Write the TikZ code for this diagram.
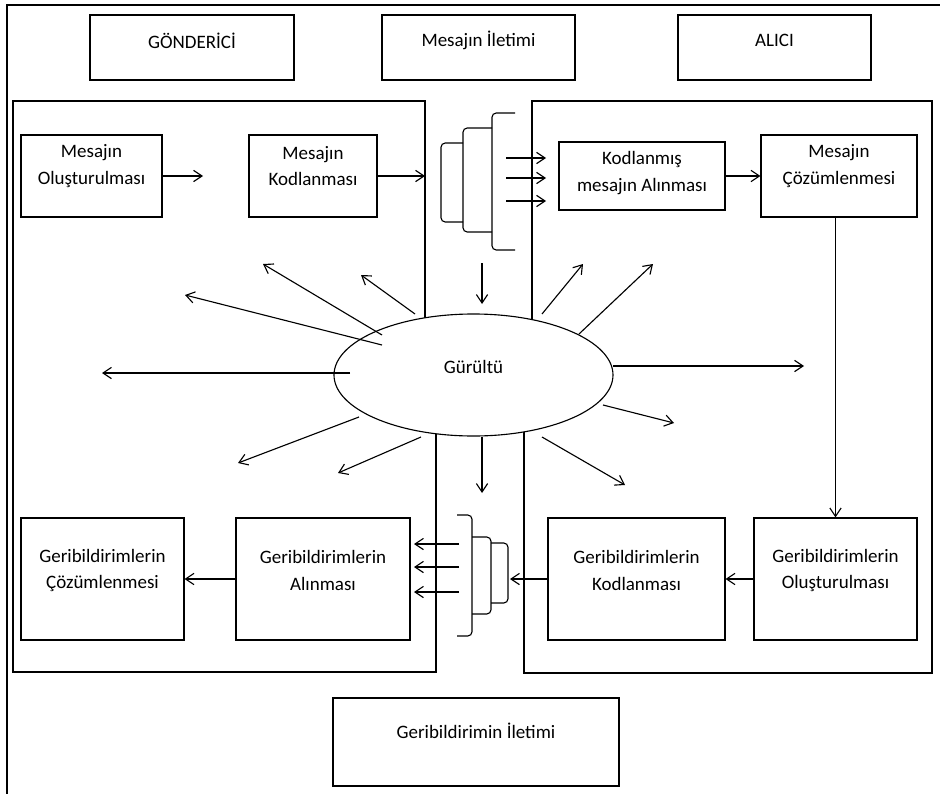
\documentclass[tikz,border=0pt]{standalone}
\usepackage{fontspec}
\setmainfont{Carlito}
\usetikzlibrary{arrows.meta,shapes.geometric}

\begin{document}
\begin{tikzpicture}[x=0.025cm,y=-0.025cm,>={Straight Barb[length=6pt,width=8pt]},
      line width=0.8pt,font=\fontsize{13.5}{19}\selectfont,
      box/.style 2 args={draw,minimum width=#1*0.025cm,minimum height=#2*0.025cm},
      txt/.style={align=center,inner sep=0pt},
      flow/.style={->}]

      \useasboundingbox (0,0) rectangle (940,794);

      % frame and the two sides
      \draw (7,794) -- (7,5) -- (940,5);
      \draw (425,360) -- (425,101) -- (13,101) -- (13,672) -- (436,672) -- (436,390);
      \draw (532,360) -- (532,101) -- (932,101) -- (932,673) -- (524,673) -- (524,390);

      % titles
      \node[box={204}{65},label={[txt,yshift=5pt]center:GÖNDERİCİ}] (gonderici) at (192,47.5) {};
      \node[box={193}{65},label={[txt,yshift=5pt]center:Mesajın İletimi}] (iletim) at (478.5,47.5) {};
      \node[box={193}{65},label={[txt,yshift=5pt]center:ALICI}] (alici) at (774.5,47.5) {};
      \node[box={286}{88},label={[txt,yshift=8pt]center:Geribildirimin İletimi}] (geriilet) at (476,742) {};

      % message steps
      \node[box={141}{82},label={[txt,yshift=7pt]center:{Mesajın\\Oluşturulması}}] (olus) at (91.5,176) {};
      \node[box={128}{82},label={[txt,yshift=7pt]center:{Mesajın\\Kodlanması}}] (kod) at (313,176) {};
      \node[box={166}{68},label={[txt,yshift=2pt]center:{Kodlanmış\\mesajın Alınması}}] (alin) at (642,176) {};
      \node[box={156}{82},label={[txt,yshift=7pt]center:{Mesajın\\Çözümlenmesi}}] (coz) at (839,176) {};

      % feedback steps
      \node[box={163}{122},label={[txt,yshift=6pt]center:{Geribildirimlerin\\Çözümlenmesi}}] (gcoz) at (102.5,579) {};
      \node[box={174}{122},label={[txt,yshift=6pt]center:{Geribildirimlerin\\Alınması}}] (galin) at (323,579) {};
      \node[box={177}{122},label={[txt,yshift=6pt]center:{Geribildirimlerin\\Kodlanması}}] (gkod) at (636.5,579) {};
      \node[box={163}{122},label={[txt,yshift=6pt]center:{Geribildirimlerin\\Oluşturulması}}] (golus) at (835.5,579) {};

      % channels
      \foreach \xl/\xr/\yt/\yb in {441/463/143/222, 463/492/128/232, 492/515/113/250}
        \draw[rounded corners=3pt] (\xr,\yt) -- (\xl,\yt) -- (\xl,\yb) -- (\xr,\yb);
      \foreach \xl/\xr/\yt/\yb in {457/472/515/636, 472/491/537/614, 491/508/543/603}
        \draw[rounded corners=3pt] (\xl,\yt) -- (\xr,\yt) -- (\xr,\yb) -- (\xl,\yb);

      % noise
      \node[draw,ellipse,fill=white,minimum width=279*0.025cm,minimum height=122*0.025cm,
        label={[txt,yshift=5.5pt]center:Gürültü}] (gurultu) at (473.5,375) {};

      \foreach \s/\e [count=\i] in {{415,314}/{361,275}, {382,335}/{263,264}, {382,345}/{185,295},
          {350,373}/{102,373}, {359,417}/{238,463}, {421,437}/{338,473},
          {542,314}/{583,264}, {579,334}/{653,264}, {613,366}/{804,366},
          {603,405}/{674,423}, {542,437}/{625,485}, {482,263}/{482,304}, {482,437}/{482,493}}{
        \coordinate (g\i) at (\s);
        \coordinate (n\i) at (\e);
        \draw[flow] (g\i) -- (n\i);
      }

      % message flow
      \coordinate (olus-out) at (203,176);
      \coordinate (kod-out) at (425,176);
      \draw[flow] (olus) -- (olus-out);
      \draw[flow] (kod) -- (kod-out);
      \foreach \y [count=\i] in {158,178,201}{
        \coordinate (kin\i) at (506,\y);
        \coordinate (kout\i) at (546,\y);
        \draw[flow] (kin\i) -- (kout\i);
      }
      \draw[flow] (alin) -- (coz);
      \draw[flow] (coz.south -| golus.north) -- (golus.north);

      % feedback flow
      \coordinate (gkod-out) at (510,579);
      \draw[flow] (golus) -- (gkod);
      \draw[flow] (gkod) -- (gkod-out);
      \foreach \y [count=\i] in {544,567,592}{
        \coordinate (gin\i) at (459,\y);
        \coordinate (gout\i) at (414,\y);
        \draw[flow] (gin\i) -- (gout\i);
      }
      \draw[flow] (galin) -- (gcoz);
    \end{tikzpicture}
\end{document}
